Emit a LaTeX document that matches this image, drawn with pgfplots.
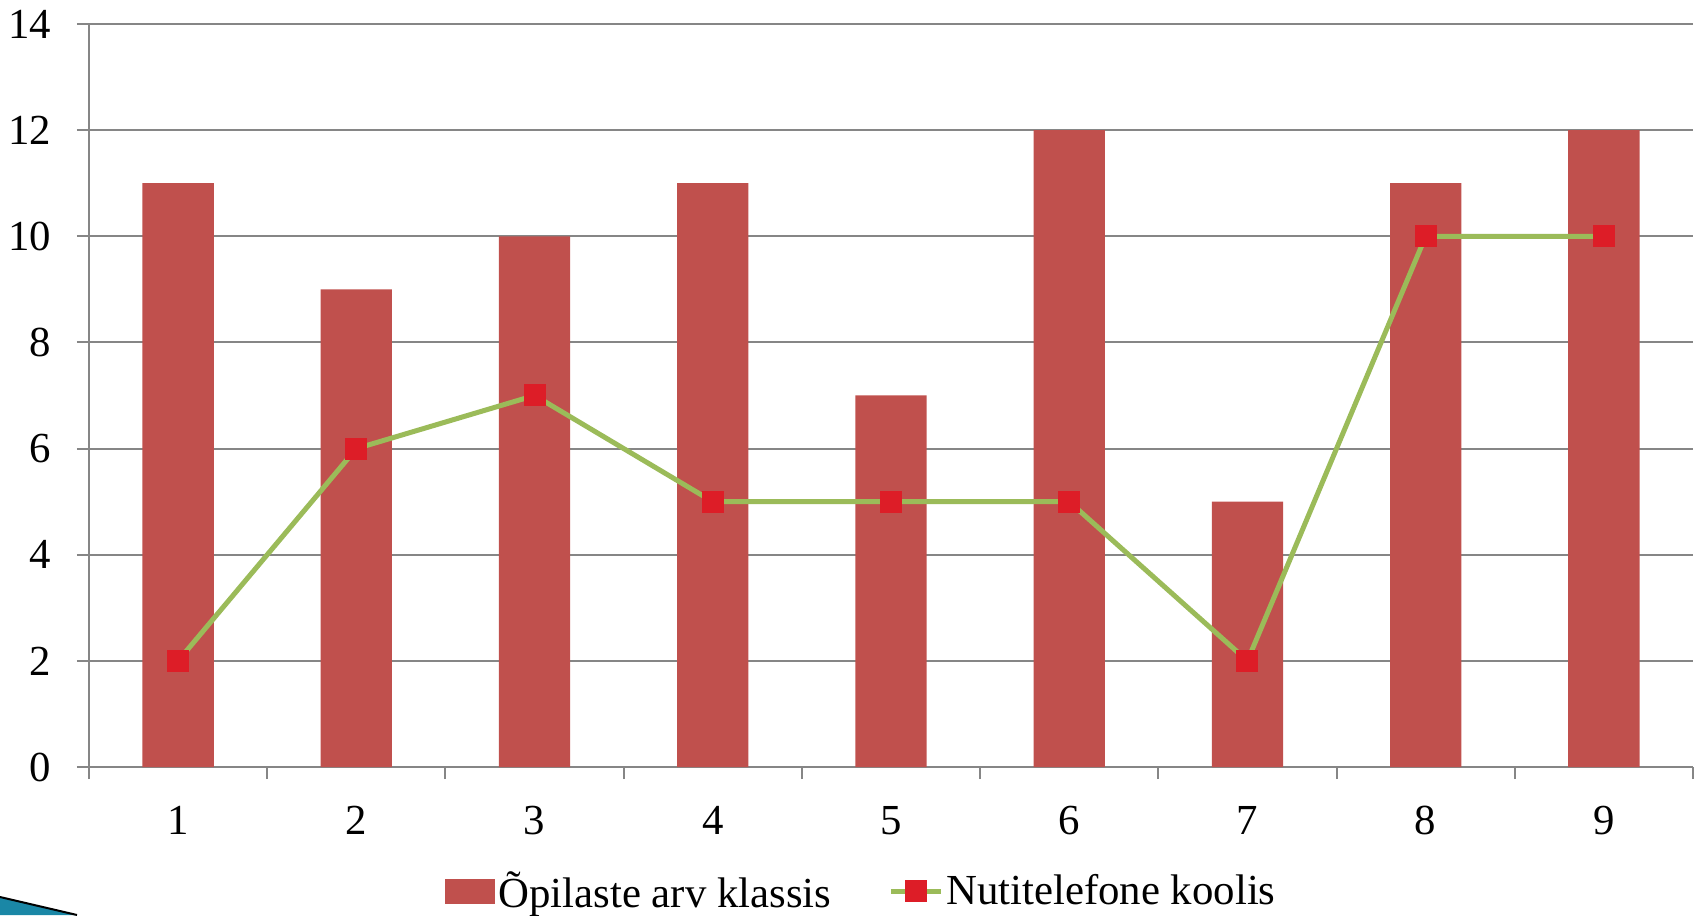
\documentclass[border=0pt]{standalone}
\usepackage{fontspec}
\setmainfont{Liberation Serif}
\usepackage{pgfplots}
\pgfplotsset{compat=1.18}

\definecolor{barred}{HTML}{C0504D}
\definecolor{linegreen}{HTML}{9BBB59}
\definecolor{markred}{RGB}{221,29,39}
\definecolor{gridgray}{HTML}{868686}
\definecolor{swoosh}{HTML}{1A87A6}

\newcommand{\chartfont}{\fontsize{21.4}{25}\selectfont}

\pgfplotsset{
  short line legend/.style={legend image code/.code={\draw[##1, mark repeat=2, mark phase=2]
    plot coordinates {(0pt,0pt) (12.5pt,0pt) (25pt,0pt)};}},
  bar patch legend/.style={legend image code/.code={\fill[barred] (0pt,-6.25pt) rectangle (25pt,6.25pt);}},
}

\begin{document}
\begin{tikzpicture}
\useasboundingbox (-44.5pt,-74pt) rectangle (803.5pt,383.5pt);
% corner decoration from the slide
\fill[swoosh] (-44.5pt,-65pt) -- (-6pt,-74pt) -- (-44.5pt,-74pt) -- cycle;
\draw[black, line width=1pt] (-44.5pt,-65pt) -- (-6pt,-74pt);

\begin{axis}[
  at={(0pt,0pt)}, anchor=south west,
  scale only axis, width=802pt, height=371.5pt,
  xmin=0.5, xmax=9.5, ymin=0, ymax=14,
  axis x line=bottom, axis y line=left,
  axis line style={-, gridgray, line width=1pt},
  ytick={0,2,...,14},
  ymajorgrids, grid style={gridgray, line width=1pt},
  tick align=outside, major tick length=6pt,
  tick style={gridgray, line width=1pt},
  xtick={0.5,1.5,...,9.5}, xticklabels={,,,,,,,,,},
  extra x ticks={1,2,...,9},
  extra x tick labels={1,2,3,4,5,6,7,8,9},
  extra x tick style={major tick length=0pt, xticklabel style={yshift=-16pt}},
  tick label style={font=\chartfont, text=black},
  /pgf/number format/assume math mode=true,
  yticklabel style={xshift=-9.3pt},
  legend columns=2,
  legend style={at={(rel axis cs:0.222,-0.1669)}, anchor=west,
    draw=none, fill=none, inner sep=0pt, font=\chartfont,
    nodes={inner sep=1.5pt},
    /tikz/every even column/.append style={column sep=27pt}},
]

\addplot[ybar, bar width=0.4, fill=barred, draw=none, bar patch legend]
coordinates {
  (1,11) (2,9) (3,10) (4,11) (5,7) (6,12) (7,5) (8,11) (9,12)
};
\addlegendentry{Õpilaste arv klassis}

\addplot[linegreen, line width=2.5pt, mark=square*, mark size=5.25pt,
  mark options={fill=markred, draw=markred, line width=0pt},
  short line legend]
coordinates {
  (1,2) (2,6) (3,7) (4,5) (5,5) (6,5) (7,2) (8,10) (9,10)
};
\addlegendentry{Nutitelefone koolis}

\end{axis}
\end{tikzpicture}
\end{document}
